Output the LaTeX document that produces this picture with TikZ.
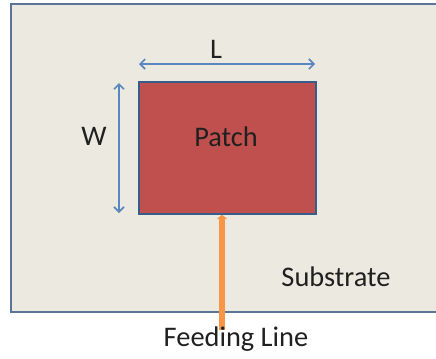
\documentclass[tikz,border=0pt]{standalone}
\usepackage{fontspec}
\setmainfont{Carlito}
\usetikzlibrary{arrows.meta}
\definecolor{subfill}{HTML}{ECEAE0}
\definecolor{subedge}{HTML}{5A7597}
\definecolor{patchfill}{HTML}{C0504D}
\definecolor{patchedge}{HTML}{385D8A}
\definecolor{dimblue}{HTML}{5B87C0}
\definecolor{feedorange}{HTML}{F79646}
\definecolor{txt}{HTML}{202020}
\tikzset{
  plate/.style={draw=subedge, fill=subfill, line width=1.6bp, inner sep=0pt},
  patchbox/.style={draw=patchedge, fill=patchfill, line width=1.6bp, inner sep=0pt,
    minimum width=177bp, minimum height=132bp},
  dimarrow/.style={draw=dimblue, line width=1.6bp,
    {Straight Barb[length=5bp,width=10bp,line width=1.6bp]}-{Straight Barb[length=5bp,width=10bp,line width=1.6bp]}},
  feedline/.style={draw=feedorange, line width=6bp,
    -{Triangle[length=4bp,width=10bp]}},
  lbl/.style={text=txt, font=\fontsize{28.5}{32}\selectfont, inner sep=0pt}
}
\begin{document}
\begin{tikzpicture}[x=1bp, y=-1bp]
  \useasboundingbox (0,0) rectangle (436,358);
  \clip (0,0) rectangle (436,358);
  % substrate plate (runs past the right edge)
  \node[plate, minimum width=440bp, minimum height=308bp, anchor=north west] (sub) at (10,3) {};
  % radiating patch
  \node[patchbox] (patch) at (227.5,148) {};
  \node[lbl] (ptxt) at (226,137) {Patch};
  % dimension arrows
  \coordinate (lA) at (139,64);
  \coordinate (lB) at (315,64);
  \draw[dimarrow] (lA) -- (lB);
  \node[lbl] (ltxt) at (216,49) {L};
  \coordinate (wA) at (119,83);
  \coordinate (wB) at (119,213);
  \draw[dimarrow] (wA) -- (wB);
  \node[lbl] (wtxt) at (94,136) {W};
  % feed line
  \coordinate (feed) at (222,330);
  \draw[feedline] (feed) -- (feed |- patch.south);
  \node[lbl] (stxt) at (336,277) {Substrate};
  \node[lbl] (ftxt) at (236,339) {Feeding Line};
\end{tikzpicture}
\end{document}
